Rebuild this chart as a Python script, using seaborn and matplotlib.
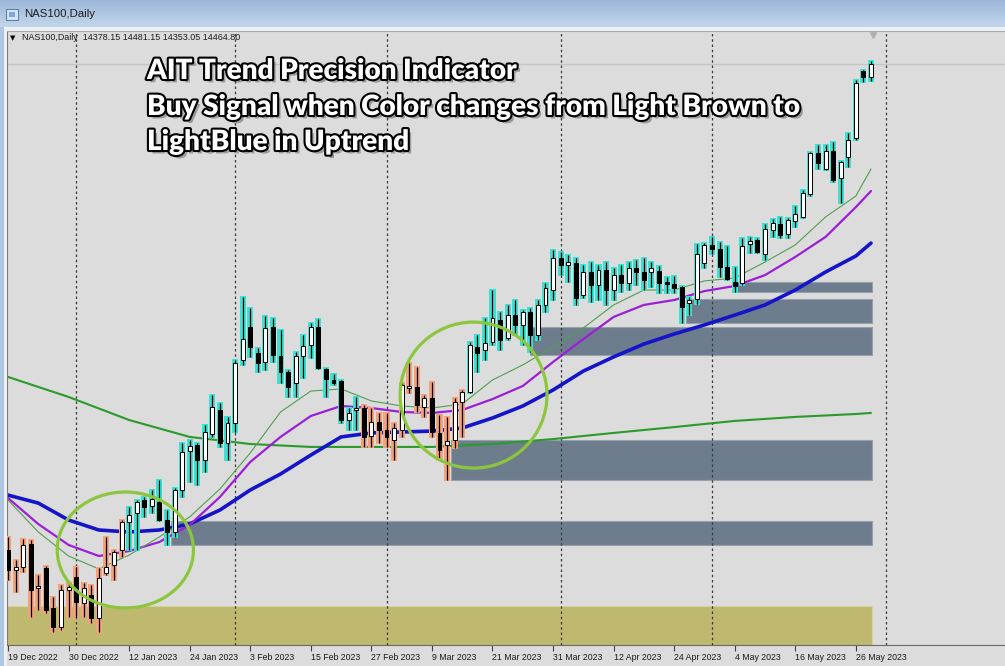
import numpy as np
import pandas as pd
import matplotlib
matplotlib.use("Agg")
import matplotlib.pyplot as plt
import matplotlib.patheffects as pe
from matplotlib.patches import Ellipse, Rectangle
from matplotlib.colors import LinearSegmentedColormap
import seaborn as sns

# ----- data (NAS100 daily) -----
date_labels = ["19 Dec 2022", "30 Dec 2022", "12 Jan 2023", "24 Jan 2023", "3 Feb 2023",
               "15 Feb 2023", "27 Feb 2023", "9 Mar 2023", "21 Mar 2023", "31 Mar 2023",
               "12 Apr 2023", "24 Apr 2023", "4 May 2023", "16 May 2023", "26 May 2023"]
label_bars = [0, 8, 16, 24, 32, 40, 48, 56, 64, 72, 80, 88, 96, 104, 112]
month_start_bars = [9, 30, 50, 73, 93, 116]

open_ = [11305, 11175, 11195, 11344, 11058, 11188, 10928, 10805, 11045, 11130,
         10960, 11012, 10863, 11155, 11208, 11305, 11487, 11546, 11630, 11591,
         11617, 11500, 11422, 11695, 11948, 11988, 11890, 12059, 12215, 12000,
         12130, 12540, 12754, 12586, 12527, 12754, 12566, 12462, 12390, 12566,
         12638, 12754, 12482, 12410, 12404, 12150, 12215, 12228, 12046, 12137,
         12085, 12020, 12085, 12358, 12364, 12234, 12293, 12066, 11988, 12020,
         12267, 12332, 12624, 12605, 12657, 12800, 12683, 12832, 12768, 12852,
         12702, 12898, 12995, 13203, 13158, 13170, 12962, 13112, 13028, 13125,
         12995, 13092, 13040, 13138, 13112, 13112, 13118, 13047, 13034, 13014,
         12910, 12936, 13170, 13288, 13262, 13144, 13047, 13040, 13294, 13320,
         13229, 13385, 13424, 13359, 13444, 13470, 13619, 13886, 13782, 13898,
         13723, 13860, 13983, 14418, 14378.15]
high = [11390, 11240, 11377, 11370, 11143, 11200, 11000, 11078, 11091, 11195,
        11091, 11078, 11188, 11390, 11305, 11500, 11585, 11630, 11650, 11695,
        11760, 11565, 11708, 12000, 12020, 12000, 12118, 12312, 12260, 12170,
        12540, 12950, 12878, 12618, 12826, 12813, 12735, 12475, 12592, 12702,
        12780, 12806, 12488, 12449, 12410, 12228, 12300, 12248, 12228, 12196,
        12196, 12130, 12390, 12520, 12494, 12312, 12397, 12182, 12170, 12293,
        12345, 12657, 12702, 12813, 12995, 12852, 12898, 12930, 12865, 12878,
        12930, 13040, 13255, 13242, 13222, 13203, 13158, 13177, 13158, 13177,
        13138, 13158, 13177, 13190, 13203, 13177, 13151, 13080, 13086, 13021,
        12950, 13294, 13300, 13340, 13307, 13281, 13144, 13333, 13340, 13333,
        13424, 13456, 13470, 13463, 13541, 13645, 13892, 13938, 13938, 13957,
        13834, 14016, 14360, 14425, 14481.15]
low = [11110, 11032, 11162, 10870, 10915, 10896, 10772, 10785, 10870, 10863,
       10870, 10830, 10772, 11143, 11110, 11260, 11305, 11305, 11520, 11546,
       11495, 11338, 11390, 11650, 11747, 11728, 11812, 12040, 11975, 11890,
       12072, 12508, 12560, 12462, 12475, 12527, 12390, 12300, 12300, 12423,
       12553, 12482, 12300, 12378, 12130, 12085, 12085, 11975, 11975, 12000,
       11975, 11890, 12040, 12326, 12202, 12170, 12040, 11890, 11760, 11968,
       12040, 12326, 12462, 12540, 12638, 12605, 12670, 12702, 12638, 12592,
       12670, 12852, 12930, 13092, 13047, 12898, 12943, 12917, 12930, 12898,
       12930, 12982, 12995, 13028, 12995, 13014, 12976, 12976, 12976, 12780,
       12832, 12904, 13138, 13229, 13080, 13060, 12982, 13028, 13236, 13236,
       13190, 13340, 13333, 13333, 13404, 13463, 13606, 13782, 13775, 13697,
       13560, 13794, 13970, 14347, 14353.05]
close = [11175, 11195, 11338, 11045, 11065, 10915, 10805, 11045, 11065, 10967,
         11058, 10863, 11123, 11195, 11292, 11487, 11532, 11617, 11585, 11637,
         11500, 11422, 11695, 11942, 11981, 11890, 12072, 12234, 12000, 12130,
         12520, 12676, 12624, 12520, 12748, 12572, 12462, 12364, 12566, 12631,
         12754, 12488, 12416, 12390, 12150, 12196, 12228, 12040, 12137, 12085,
         12040, 12098, 12378, 12371, 12248, 12293, 12072, 11955, 12014, 12267,
         12332, 12638, 12586, 12650, 12813, 12670, 12832, 12768, 12852, 12702,
         12898, 13008, 13203, 13158, 13177, 12943, 13112, 13028, 13125, 12995,
         13092, 13040, 13138, 13112, 13060, 13138, 13040, 13034, 13008, 12884,
         12930, 13229, 13288, 13262, 13144, 13066, 13021, 13281, 13314, 13242,
         13392, 13430, 13352, 13450, 13489, 13626, 13886, 13820, 13898, 13710,
         13827, 13970, 14340, 14380, 14464.80]

# indicator colour: light brown runs, light blue everywhere else
brown_runs = [(0, 15), (47, 60)]

# moving averages, sampled every 4 bars
ma_bars = [0, 4, 8, 12, 16, 20, 24, 28, 32, 36, 40, 44, 48, 52, 56, 60, 64, 68,
           72, 76, 80, 84, 88, 92, 96, 100, 104, 108, 112, 114]
ma_fast = [11630, 11422, 11266, 11182, 11272, 11390, 11520, 11702, 11936, 12202,
           12338, 12352, 12274, 12241, 12228, 12254, 12410, 12508, 12624, 12748,
           12898, 12995, 12995, 13054, 13073, 13177, 13288, 13470, 13606, 13782]
ma_mid = [11643, 11474, 11338, 11266, 11298, 11357, 11468, 11650, 11877, 12040,
          12176, 12241, 12228, 12202, 12196, 12215, 12286, 12371, 12527, 12676,
          12820, 12898, 12930, 12988, 13021, 13092, 13210, 13340, 13534, 13638]
ma_slow = [11662, 11610, 11500, 11435, 11422, 11435, 11474, 11565, 11695, 11799,
           11922, 12040, 12066, 12072, 12078, 12098, 12163, 12241, 12345, 12468,
           12560, 12644, 12709, 12768, 12832, 12898, 12995, 13112, 13216, 13300]
ma200_bars = [0, 8, 16, 24, 32, 40, 48, 56, 64, 72, 80, 88, 96, 104, 112, 114]
ma_200 = [12430, 12300, 12150, 12040, 11994, 11975, 11975, 11975, 11994, 12026,
          12066, 12104, 12144, 12170, 12189, 12196]

# supply/demand zones
zone_start = [21.5, 58.5, 69, 89.5, 96]
zone_top = [11493.5, 12020, 12754.5, 12936.5, 13047]
zone_bottom = [11337.5, 11760, 12572.5, 12780.5, 12982]
base_zone_top = 10941

# hand drawn circles (bar, price, width in bars, height in price)
circle_bar = [15.5, 61.5]
circle_price = [11305, 12312]
circle_w = [18.0, 19.4]
circle_h = [754, 949]

title_lines = ["AIT Trend Precision Indicator",
               "Buy Signal when Color changes from Light Brown to",
               "LightBlue in Uptrend"]

W, H = 1005, 666
CYAN = "#3ee0d2"
BROWN = "#f3a27c"
ZONE = "#6e7d8d"
OLIVE = "#bfb970"
BG = "#dcdcdc"


def main():
    sns.set_style("white")
    plt.rcParams["font.family"] = ["Liberation Sans", "DejaVu Sans"]

    fig = plt.figure(figsize=(W / 100, H / 100), dpi=100, facecolor=BG)

    # ----- window chrome -----
    bar_ax = fig.add_axes([0, 1 - 27 / H, 1, 27 / H])
    grad = LinearSegmentedColormap.from_list("tb", ["#9bb7d8", "#c3d6eb"])
    bar_ax.imshow(np.linspace(0, 1, 30)[:, None], cmap=grad, aspect="auto",
                  extent=[0, 1, 0, 1])
    bar_ax.set_axis_off()
    fig.text(24 / W, 1 - 14 / H, "NAS100,Daily", fontsize=8.2, va="center",
             color="#1c1c1c")
    fig.patches.append(Rectangle((6 / W, 1 - 20 / H), 12 / W, 11 / H,
                                 transform=fig.transFigure, facecolor="#d7e6f5",
                                 edgecolor="#5b82b4", lw=0.8))
    fig.patches.append(Rectangle((9 / W, 1 - 17 / H), 6 / W, 5 / H,
                                 transform=fig.transFigure, facecolor="#7fa6d6",
                                 edgecolor="none"))
    fig.patches.append(Rectangle((0, 1 - 31 / H), 1, 4 / H,
                                 transform=fig.transFigure, facecolor="#eceff3",
                                 edgecolor="none"))
    fig.patches.append(Rectangle((0, 0), 3.5 / W, 1 - 27 / H,
                                 transform=fig.transFigure, facecolor="#aec6e2",
                                 edgecolor="none"))
    fig.patches.append(Rectangle((3.5 / W, 0), 3 / W, 1 - 31 / H,
                                 transform=fig.transFigure, facecolor="#efefef",
                                 edgecolor="none"))

    # ----- chart -----
    ax = fig.add_axes([7 / W, 1 - 645 / H, 1 - 7 / W, (645 - 31) / H])
    ax.set_facecolor(BG)

    bars = np.arange(len(close))
    o, hi, lo, c = (np.array(v, dtype=float) for v in (open_, high, low, close))

    # zones
    for x0, top, bot in zip(zone_start, zone_top, zone_bottom):
        ax.fill_between([x0, bars[-1] + 0.1], bot, top, facecolor=ZONE,
                        edgecolor="#95a1ad", lw=0.8, zorder=1)
    ax.fill_between([-1, bars[-1] + 0.1], 10600, base_zone_top, facecolor=OLIVE,
                    edgecolor="#d6d2a0", lw=0.8, zorder=1)

    # month separators and price line
    for b in month_start_bars:
        ax.axvline(b, color="#3a3a3a", lw=0.9, ls=(0, (2, 2.2)), zorder=1.5)
    ax.axhline(c[-1], color="#c4c4c4", lw=1, zorder=1.2)

    # moving averages
    ma = pd.DataFrame({"bar": ma_bars, "fast": ma_fast, "mid": ma_mid, "slow": ma_slow})
    ma2 = pd.DataFrame({"bar": ma200_bars, "ma200": ma_200})
    sns.lineplot(data=ma2, x="bar", y="ma200", color="#2a9a2a", lw=1.5, ax=ax, zorder=2)
    sns.lineplot(data=ma, x="bar", y="slow", color="#1414c8", lw=2.6, ax=ax, zorder=2)
    sns.lineplot(data=ma, x="bar", y="mid", color="#9a1fd6", lw=1.6, ax=ax, zorder=2)
    sns.lineplot(data=ma, x="bar", y="fast", color="#4f9f4f", lw=0.8, ax=ax, zorder=2)

    # candles
    glow = [BROWN if any(a <= i <= b for a, b in brown_runs) else CYAN for i in bars]
    ax.bar(bars, hi - lo + 12, bottom=lo - 6, width=0.8, color=glow, lw=0, zorder=3)
    ax.vlines(bars, lo, hi, color="black", lw=0.9, zorder=4)
    body_lo = np.minimum(o, c)
    body_h = np.maximum(np.abs(c - o), 10)
    body_col = np.where(c >= o, "white", "black")
    ax.bar(bars, body_h, bottom=body_lo, width=0.52, color=body_col,
           edgecolor="black", lw=0.7, zorder=5)

    # circles
    for bx, py, w, h in zip(circle_bar, circle_price, circle_w, circle_h):
        ax.add_patch(Ellipse((bx, py), w, h, fill=False, edgecolor="#8cc63f",
                             lw=2.3, zorder=6))

    # shift marker
    ax.plot(bars[-1] + 0.2, 0.993, marker="v", ms=5, color="#b0b0b0",
            transform=ax.get_xaxis_transform(), clip_on=False, zorder=7)

    ax.set_xlim(-0.13, 131.7)
    ax.set_ylim(10687.5, 14678.5)
    ax.set_xlabel("")
    ax.set_ylabel("")
    ax.set_yticks([])
    ax.set_xticks(label_bars)
    ax.set_xticklabels(date_labels, ha="left", fontsize=6.3, color="#1a1a1a")
    ax.tick_params(axis="x", length=4, width=0.8, color="#404040", pad=2,
                   direction="out", bottom=True)
    ax.spines["right"].set_visible(False)
    ax.spines["bottom"].set_color("#6a6a6a")
    ax.spines["left"].set_color("#7a7a7a")
    ax.spines["top"].set_color("#a8a8a8")

    # header line
    fig.text(10 / W, 1 - 38 / H, "\u25bc", fontsize=5, va="center",
             family=["DejaVu Sans"], color="black")
    fig.text(22 / W, 1 - 38 / H,
             "NAS100,Daily  14378.15 14481.15 14353.05 14464.80",
             fontsize=6.4, va="center", color="#1a1a1a")

    # title text with outline and shadow
    effects = [pe.SimplePatchShadow(offset=(2.5, -2.5), shadow_rgbFace="0.3", alpha=0.45),
               pe.Stroke(linewidth=3, foreground="black"), pe.Normal()]
    for line, base in zip(title_lines, [79, 115, 150]):
        fig.text(147 / W, 1 - base / H, line, fontsize=20.1, fontweight="heavy",
                 family=["Lato", "DejaVu Sans"], color="white",
                 va="baseline", path_effects=effects, zorder=10)

    fig.savefig("out.png", dpi=100, facecolor=BG)


if __name__ == "__main__":
    main()
